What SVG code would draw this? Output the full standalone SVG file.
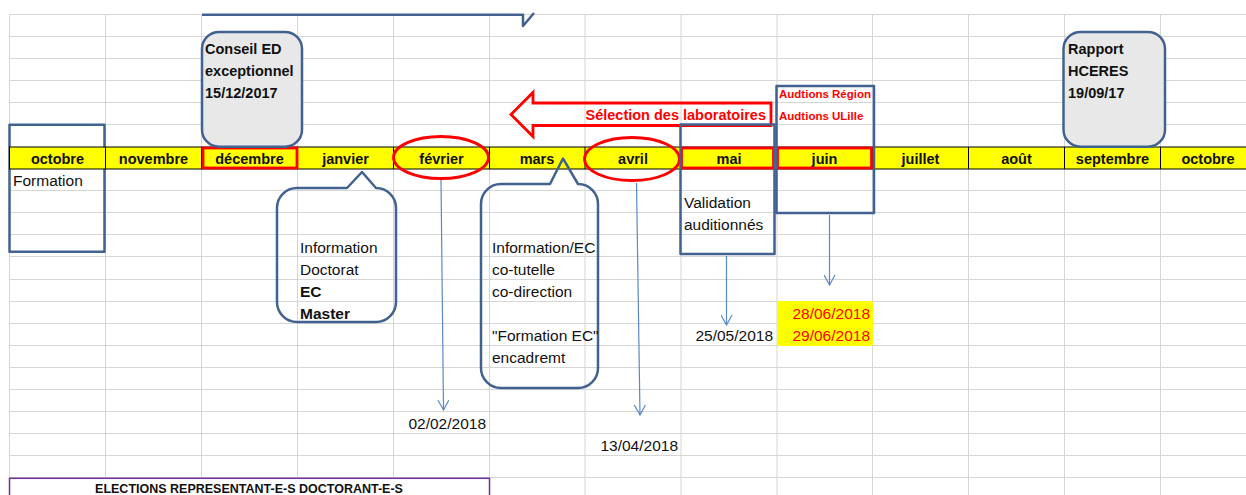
<svg xmlns="http://www.w3.org/2000/svg" width="1246" height="495" viewBox="0 0 1246 495">
<style>
.grid{stroke:#d6d6d6;stroke-width:1;fill:none}
.shape{stroke:#41628f;stroke-width:2.5;fill:none;stroke-linejoin:round}
.gray{fill:#e8e8e8}
.red{stroke:#ff0000;stroke-width:2.8;fill:none}
.t{font-family:"Liberation Sans",Arial,sans-serif;font-size:15.5px;fill:#111}
.b{font-family:"Liberation Sans",Arial,sans-serif;font-size:14.5px;font-weight:bold;fill:#111}
.m{font-family:"Liberation Sans",Arial,sans-serif;font-size:14.5px;font-weight:bold;fill:#111;text-anchor:middle}
.r{fill:#ff0000}
.end{text-anchor:end}
.conn{stroke:#5b89c8;stroke-width:1.2;fill:none}
</style>
<defs>
<marker id="vhead" markerUnits="userSpaceOnUse" viewBox="0 0 12 12" refX="11" refY="6" markerWidth="12" markerHeight="12" orient="auto">
<path d="M1,0.5 L11,6 L1,11.5" fill="none" stroke="#5b89c8" stroke-width="1.2"/>
</marker>
</defs>
<rect width="1246" height="495" fill="#ffffff"/>
<g id="grid">
<path class="grid" d="M9.5,14.5H1246M9.5,36.5H1246M9.5,58.5H1246M9.5,80.5H1246M9.5,102.5H1246M9.5,124.5H1246M9.5,190.5H1246M9.5,212.5H1246M9.5,234.5H1246M9.5,256.5H1246M9.5,279.5H1246M9.5,301.5H1246M9.5,323.5H1246M9.5,345.5H1246M9.5,367.5H1246M9.5,389.5H1246M9.5,411.5H1246M9.5,433.5H1246M9.5,455.5H1246M9.5,477.5H1246"/>
<path class="grid" d="M9.5,14.5V495M105.5,14.5V495M201.5,14.5V495M297.5,14.5V495M393.5,14.5V495M489.5,14.5V495M585,14.5V495M681,14.5V495M777,14.5V495M872.5,14.5V495M968.5,14.5V495M1064.5,14.5V495M1160.5,14.5V495"/>
</g>
<g id="node-formation">
<rect class="shape" x="9.5" y="124.7" width="95" height="127"/>
<text class="t" x="13" y="186">Formation</text>
</g>
<g id="month-bar">
<rect x="9.5" y="147" width="1240" height="22" fill="#ffff00" stroke="#000" stroke-width="1"/>
<path d="M105.5,147V169M201.5,147V169M297.5,147V169M393.5,147V169M489.5,147V169M585,147V169M681,147V169M777,147V169M872.5,147V169M968.5,147V169M1064.5,147V169M1160.5,147V169" stroke="#000" stroke-width="1"/>
<text class="m" x="57.5" y="164">octobre</text>
<text class="m" x="153.5" y="164">novembre</text>
<text class="m" x="249.5" y="164">décembre</text>
<text class="m" x="345.5" y="164">janvier</text>
<text class="m" x="441.5" y="164">février</text>
<text class="m" x="537" y="164">mars</text>
<text class="m" x="633" y="164">avril</text>
<text class="m" x="729" y="164">mai</text>
<text class="m" x="824.5" y="164">juin</text>
<text class="m" x="920.5" y="164">juillet</text>
<text class="m" x="1016.5" y="164">août</text>
<text class="m" x="1112.5" y="164">septembre</text>
<text class="m" x="1208" y="164">octobre</text>
</g>
<g id="highlights">
<rect class="red" x="203" y="148" width="94" height="20"/>
<rect class="red" x="681.5" y="148" width="92" height="20"/>
<rect class="red" x="777.5" y="148" width="94" height="20"/>
<ellipse class="red" cx="441" cy="157.5" rx="47.5" ry="21"/>
<ellipse class="red" cx="632" cy="159" rx="47.5" ry="21.5"/>
</g>
<g id="node-top-callout">
<path class="shape" d="M202,14.7H523V26L534,13"/>
</g>
<g id="node-conseil">
<rect class="shape gray" x="202" y="32" width="100" height="114.7" rx="17"/>
<text class="b" x="205" y="54">Conseil ED</text>
<text class="b" x="205" y="76">exceptionnel</text>
<text class="b" x="205" y="98">15/12/2017</text>
</g>
<g id="node-rapport">
<rect class="shape gray" x="1063.5" y="32" width="101.5" height="114.7" rx="17"/>
<text class="b" x="1068" y="54">Rapport</text>
<text class="b" x="1068" y="76">HCERES</text>
<text class="b" x="1068" y="98">19/09/17</text>
</g>
<g id="node-selection">
<path d="M511,114.5L533,92.5V103H771V125.5H533V136.5Z" fill="none" stroke="#ff0000" stroke-width="2.8" stroke-linejoin="miter"/>
<text class="b r end" x="766" y="120">Sélection des laboratoires</text>
</g>
<g id="node-mai">
<rect class="shape" x="680.5" y="124.5" width="94" height="129.5"/>
<text class="t" x="684" y="208">Validation</text>
<text class="t" x="684" y="230">auditionnés</text>
</g>
<g id="node-juin">
<rect class="shape" x="776.5" y="86" width="97.5" height="127"/>
<text class="b r" x="779" y="98" style="font-size:11.5px">Audtions Région</text>
<text class="b r" x="779" y="120" style="font-size:11.5px">Audtions ULille</text>
</g>
<g id="node-janvier-callout">
<path class="shape" d="M297,188H347L362,172L376,188H376A20,20 0 0 1 396,208V302A20,20 0 0 1 376,322H297A20,20 0 0 1 277,302V208A20,20 0 0 1 297,188Z"/>
<text class="t" x="300" y="253">Information</text>
<text class="t" x="300" y="275">Doctorat</text>
<text class="t" x="300" y="297" font-weight="bold">EC</text>
<text class="t" x="300" y="319" font-weight="bold">Master</text>
</g>
<g id="node-mars-callout">
<path class="shape" d="M501,184H550L563,158.5L578,184A20,20 0 0 1 598,204V368A20,20 0 0 1 578,388H501A20,20 0 0 1 481,368V204A20,20 0 0 1 501,184Z"/>
<text class="t" x="492" y="253">Information/EC</text>
<text class="t" x="492" y="275">co-tutelle</text>
<text class="t" x="492" y="297">co-direction</text>
<text class="t" x="492" y="341">"Formation EC"</text>
<text class="t" x="492" y="363">encadremt</text>
</g>
<g id="node-dates">
<rect x="777" y="301" width="96" height="45" fill="#ffff00" rx="2"/>
<text class="t end" x="486" y="429">02/02/2018</text>
<text class="t end" x="678" y="451">13/04/2018</text>
<text class="t end" x="773" y="341">25/05/2018</text>
<text class="t end r" x="870" y="318.5">28/06/2018</text>
<text class="t end r" x="870" y="341">29/06/2018</text>
</g>
<g id="connectors">
<path class="conn" d="M441,180L443.5,410" marker-end="url(#vhead)"/>
<path class="conn" d="M636.5,183L640,415" marker-end="url(#vhead)"/>
<path class="conn" d="M726.5,256V325" marker-end="url(#vhead)"/>
<path class="conn" d="M829.5,215V285" marker-end="url(#vhead)"/>
</g>
<g id="node-elections">
<rect x="9.5" y="478.3" width="480" height="40" fill="#ffffff" stroke="#7030a0" stroke-width="1.5"/>
<text class="b" x="249" y="493" text-anchor="middle" style="font-size:12.5px">ELECTIONS REPRESENTANT-E-S DOCTORANT-E-S</text>
</g>
</svg>
